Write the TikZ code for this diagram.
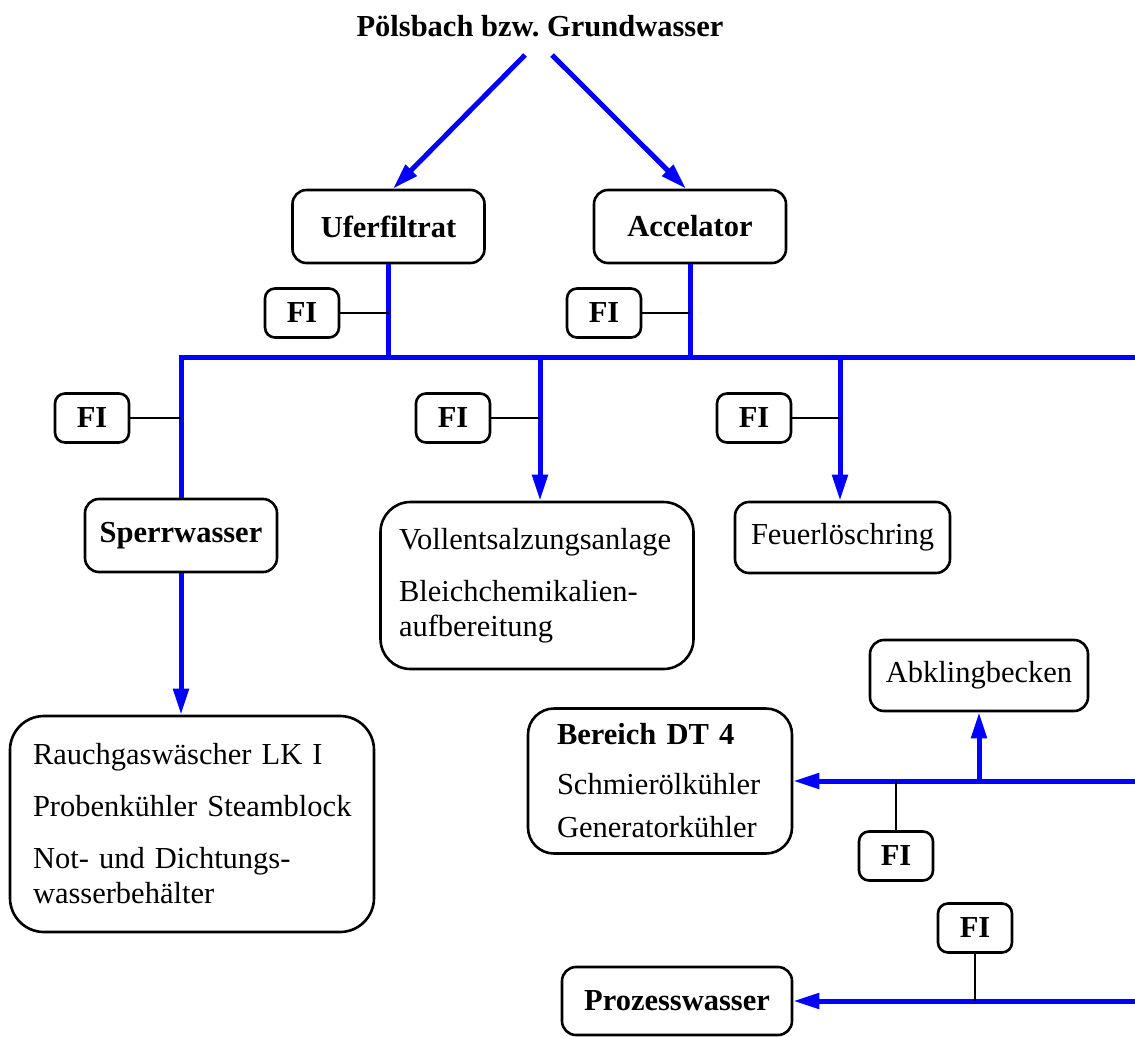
\documentclass[tikz,border=0pt]{standalone}
\usepackage{fontspec}
\setmainfont{Liberation Serif}
\usetikzlibrary{arrows.meta}
\begin{document}
\frenchspacing
\begin{tikzpicture}[x=1pt,y=-1pt,
  every node/.style={font=\fontsize{30.5}{35}\selectfont},
  bf/.style={font=\fontsize{30.5}{35}\selectfont\bfseries},
  box/.style={draw=black,line width=2.6pt,rounded corners=14pt,inner sep=0pt,
    minimum width=#1},
  box/.default=192pt,
  bigbox/.style={draw=black,line width=2.6pt,rounded corners=30pt,inner sep=0pt,align=left},
  fibox/.style={draw=black,line width=2.6pt,rounded corners=10pt,inner sep=0pt,
    minimum width=74pt,minimum height=49pt,bf},
  pipe/.style={draw=blue,line width=5pt},
  flow/.style={pipe,-{Triangle[length=26pt,width=15pt]}},
  tap/.style={draw=black,line width=2pt}]
\useasboundingbox (0,0) rectangle (1135,1036);

% source
\node[bf] (src) at (540,26) {Pölsbach bzw. Grundwasser};
\coordinate (s1) at (525,55);
\coordinate (s2) at (552,55);

% intake boxes
\node[box,minimum height=73pt,bf] (uf) at (388.5,226.5) {Uferfiltrat};
\node[box,minimum height=73pt,bf] (ac) at (690,226.5) {Accelator};
\draw[flow] (s1) -- (uf.north -| 393,0);
\draw[flow] (s2) -- (ac.north -| 686,0);

% main distribution line
\coordinate (busR) at (1135,357);
\coordinate (jU) at (uf.south |- busR);
\coordinate (jA) at (ac.south |- busR);
\coordinate (j2) at (540,357);
\coordinate (j3) at (840,357);

\node[fibox] (fi1) at (302,313) {FI};
\node[fibox] (fi2) at (604,313) {FI};
\draw[pipe] (uf.south) -- (jU);
\draw[pipe] (ac.south) -- (jA);
\draw[tap] (fi1.east) -- (fi1.east -| jU);
\draw[tap] (fi2.east) -- (fi2.east -| jA);

% Sperrwasser branch
\node[box,minimum height=73pt,bf] (sp) at (181,535.5) {Sperrwasser};
\draw[pipe] (sp.north) |- (busR);
\node[fibox] (fi3) at (92,418) {FI};
\draw[tap] (fi3.east) -- (fi3.east -| sp.north);

\node[bigbox,rounded corners=34pt,minimum width=364pt,minimum height=216pt,text width=318pt] (rg) at (192,824)
  {\mbox{Rauchgaswäscher LK I}\\[17pt]\mbox{Probenkühler Steamblock}\\[17pt]\mbox{Not- und Dichtungs-}\\\mbox{wasserbehälter}};
\draw[flow] (sp.south) -- (sp.south |- rg.north);

% Vollentsalzung branch
\node[bigbox,minimum width=313pt,minimum height=167pt,text width=276pt] (vo) at (537,585.5)
  {\mbox{Vollentsalzungsanlage}\\[17pt]\mbox{Bleichchemikalien-}\\\mbox{aufbereitung}};
\node[fibox] (fi4) at (453,418) {FI};
\draw[flow] (j2) -- (j2 |- vo.north);
\draw[tap] (fi4.east) -- (fi4.east -| j2);

% Feuerlöschring branch
\node[box=215pt,minimum height=71pt] (fe) at (842.5,537.5) {Feuerlöschring};
\node[fibox] (fi5) at (754,418) {FI};
\draw[flow] (j3) -- (j3 |- fe.north);
\draw[tap] (fi5.east) -- (fi5.east -| j3);

% Bereich DT 4
\coordinate (r1) at (1135,781);
\node[box=218pt,minimum height=71pt] (ab) at (979,675.5) {Abklingbecken};
\node[bigbox,rounded corners=26pt,minimum width=264pt,minimum height=145pt,text width=206pt] (bd) at (660,781)
  {\mbox{\textbf{Bereich DT 4}}\\[15pt]\mbox{Schmierölkühler}\\[8pt]\mbox{Generatorkühler}};
\draw[flow] (r1) -- (bd.east);
\draw[flow] (ab.south |- r1) -- (ab.south);
\node[fibox] (fi6) at (896,856) {FI};
\draw[tap] (fi6.north) -- (fi6.north |- r1);

% Prozesswasser
\coordinate (r2) at (1135,1001);
\node[box=230pt,minimum height=68pt,bf] (pw) at (677,1001) {Prozesswasser};
\node[fibox] (fi7) at (975,928) {FI};
\draw[flow] (r2) -- (pw.east);
\draw[tap] (fi7.south) -- (fi7.south |- r2);
\end{tikzpicture}
\end{document}
